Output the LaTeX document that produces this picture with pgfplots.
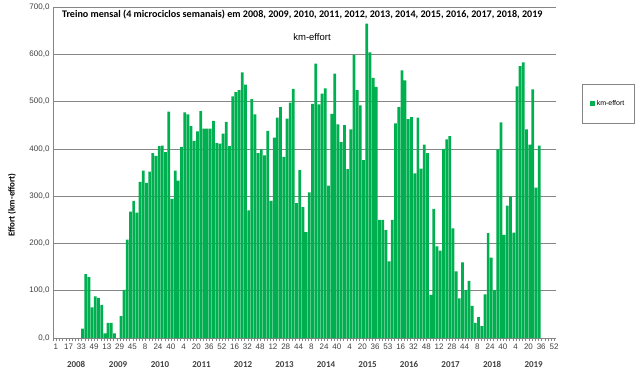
\documentclass[border=0pt]{standalone}
\usepackage{fontspec}
\setmainfont{Liberation Sans}
\newfontfamily\calibri{Carlito}
\usepackage{pgfplots}
\usepackage{pgfplotstable}
\pgfplotsset{compat=1.18}
\definecolor{bargreen}{RGB}{0,176,80}
\definecolor{gridgray}{RGB}{134,134,134}
\definecolor{labgray}{RGB}{64,64,64}

% block = 4-week period; x = centre week of the block (weeks 4k-3..4k)
\pgfplotstableread{
x y
34.5 20
38.5 135
42.5 129
46.5 65
50.5 88
54.5 85
58.5 70
62.5 10
66.5 32
70.5 32
74.5 10
78.5 0
82.5 46
86.5 102
90.5 208
94.5 267
98.5 290
102.5 265
106.5 330
110.5 354
114.5 328
118.5 352
122.5 391
126.5 385
130.5 406
134.5 407
138.5 393
142.5 479
146.5 294
150.5 354
154.5 333
158.5 404
162.5 477
166.5 473
170.5 448
174.5 417
178.5 437
182.5 480
186.5 443
190.5 443
194.5 443
198.5 459
202.5 412
206.5 411
210.5 432
214.5 457
218.5 406
222.5 511
226.5 520
230.5 524
234.5 562
238.5 536
242.5 270
246.5 505
250.5 473
254.5 391
258.5 399
262.5 386
266.5 438
270.5 290
274.5 424
278.5 466
282.5 488
286.5 383
290.5 464
294.5 498
298.5 527
302.5 285
306.5 355
310.5 277
314.5 224
318.5 308
322.5 495
326.5 580
330.5 494
334.5 517
338.5 528
342.5 322
346.5 474
350.5 559
354.5 452
358.5 414
362.5 450
366.5 357
370.5 441
374.5 599
378.5 524
382.5 492
386.5 376
390.5 665
394.5 604
398.5 550
402.5 531
406.5 250
410.5 250
414.5 228
418.5 162
422.5 250
426.5 454
430.5 488
434.5 566
438.5 545
442.5 463
446.5 467
450.5 348
454.5 466
458.5 358
462.5 409
466.5 391
470.5 91
474.5 273
478.5 194
482.5 185
486.5 400
490.5 420
494.5 427
498.5 232
502.5 141
506.5 84
510.5 160
514.5 101
518.5 121
522.5 68
526.5 32
530.5 44
534.5 25
538.5 92
542.5 222
546.5 170
550.5 101
554.5 399
558.5 456
562.5 218
566.5 280
570.5 299
574.5 223
578.5 532
582.5 575
586.5 583
590.5 441
594.5 409
598.5 526
602.5 318
606.5 407
}\effort

\begin{document}
\begin{tikzpicture}[x=1pt,y=1pt]
\path[use as bounding box] (0,0) rectangle (640,370);
\begin{axis}[
  at={(53pt,32pt)}, anchor=south west,
  scale only axis, width=503pt, height=331pt,
  clip=false,
  xmin=-2.5, xmax=627.5, ymin=0, ymax=700,
  axis x line=bottom, axis y line=left,
  axis line style={-, gridgray, line width=0.6pt},
  ytick={0,100,...,700},
  ymajorgrids, grid style={gridgray, line width=0.6pt},
  major tick length=0pt,
  xtick={1,17,...,625},
  xticklabels={1,17,33,49,13,29,45,8,24,40,4,20,36,52,16,32,48,12,28,44,8,24,40,4,20,36,53,16,32,48,12,28,44,8,24,40,4,20,36,52},
  minor xtick={-2.5,1.5,...,627.5},
  minor tick length=3pt, tick align=outside,
  minor x tick style={gridgray, line width=0.5pt},
  xticklabel style={font=\fontsize{8}{9}\selectfont, text=labgray, yshift=-2pt},
  yticklabel style={font=\fontsize{8}{9}\selectfont, text=labgray},
  /pgf/number format/.cd, fixed, fixed zerofill, precision=1, use comma, 1000 sep={}, assume math mode=true,
  /pgfplots/.cd,
  legend style={at={(1.0517,0.767)}, anchor=north west, draw=gridgray,
    font=\fontsize{7}{8}\selectfont, inner xsep=8pt, inner ysep=14pt,
    cells={anchor=west}},
  legend image code/.code={\fill[bargreen] (0pt,-2.3pt) rectangle (4.6pt,2.3pt);},
]
\addplot[ybar, bar width=3.4, fill=bargreen, draw=none] table[x=x,y=y] {\effort};
\addlegendentry{km-effort}
\foreach \yr/\c in {2008/26.5,2009/79,2010/131.5,2011/183.5,2012/235.5,2013/287.5,2014/339.5,2015/391.5,2016/443.5,2017/495.5,2018/547.5,2019/599.5}{
  \edef\temp{\noexpand\node[anchor=base, font=\noexpand\calibri\noexpand\bfseries\noexpand\fontsize{9}{10}\noexpand\selectfont, text=labgray] at (axis cs:\c,0) [yshift=-29pt] {\yr};}
  \temp
}
\end{axis}
\node[anchor=west, font=\calibri\bfseries\fontsize{10.1}{12}\selectfont, text=black] at (58.5,355) {Treino mensal (4 microciclos semanais) em 2008, 2009, 2010, 2011, 2012, 2013, 2014, 2015, 2016, 2017, 2018, 2019};
\node[font=\fontsize{9.5}{11}\selectfont, text=black] at (312,333) {km-effort};
\node[rotate=90, font=\calibri\bfseries\fontsize{9}{10}\selectfont, text=black] at (12,165) {Effort (km-effort)};
\end{tikzpicture}
\end{document}
